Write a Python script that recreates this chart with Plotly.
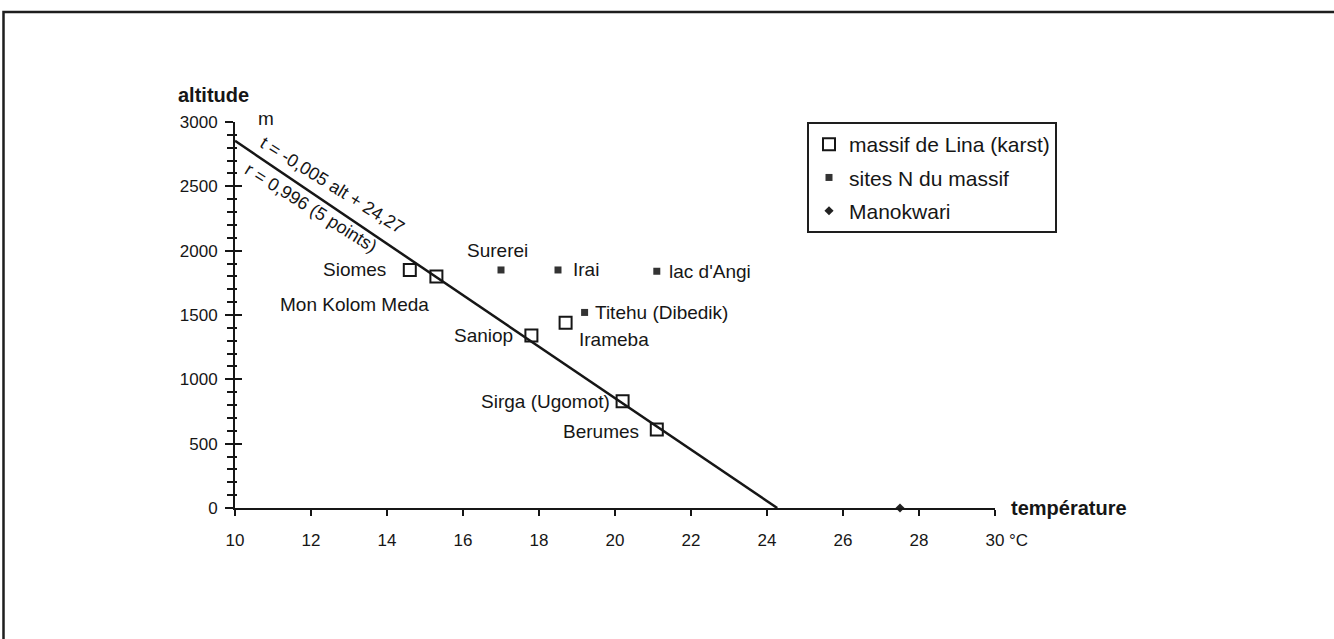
import plotly.graph_objects as go

# Sites du massif de Lina (karst) : température moyenne (°C) et altitude (m)
lina_noms = ["Siomes", "Mon Kolom Meda", "Saniop", "Irameba", "Sirga (Ugomot)", "Berumes"]
lina_temp = [14.6, 15.3, 17.8, 18.7, 20.2, 21.1]
lina_alt = [1850, 1800, 1340, 1440, 830, 610]

# Sites au nord du massif
nord_noms = ["Surerei", "Irai", "lac d'Angi", "Titehu (Dibedik)"]
nord_temp = [17.0, 18.5, 21.1, 19.2]
nord_alt = [1850, 1850, 1840, 1520]

# Station de référence au niveau de la mer
mano_temp = [27.5]
mano_alt = [0]

# Droite de régression : t = pente * alt + ordonnee
pente = -0.005
ordonnee = 24.27
r_coef = "0,996"

x_ticks = [10, 12, 14, 16, 18, 20, 22, 24, 26, 28, 30]
y_ticks = [0, 500, 1000, 1500, 2000, 2500, 3000]

FONT = "Liberation Sans, Arial, Helvetica, sans-serif"
INK = "#161616"

# placement of each site label relative to its marker: (xanchor, xshift, yshift)
label_pos = {
    "Siomes": ("right", -22, 0),
    "Mon Kolom Meda": ("right", -5, -28),
    "Saniop": ("right", -16, 0),
    "Irameba": ("left", 11, -17),
    "Sirga (Ugomot)": ("right", -11, 0),
    "Berumes": ("right", -16, -2),
    "Surerei": ("center", -4, 19),
    "Irai": ("left", 13, 0),
    "lac d'Angi": ("left", 10, 0),
    "Titehu (Dibedik)": ("left", 8, 0),
}

fig = go.Figure()

fig.add_trace(go.Scatter(
    x=lina_temp, y=lina_alt, mode="markers", name="massif de Lina (karst)",
    marker=dict(symbol="square-open", size=12, color=INK, line=dict(width=2, color=INK)),
    legendgroup="a", cliponaxis=False,
))
fig.add_trace(go.Scatter(
    x=nord_temp, y=nord_alt, mode="markers", name="sites N du massif",
    marker=dict(symbol="square", size=7, color="#333333"),
    legendgroup="b", cliponaxis=False,
))
fig.add_trace(go.Scatter(
    x=mano_temp, y=mano_alt, mode="markers", name="Manokwari",
    marker=dict(symbol="diamond", size=7, color="#222222"),
    legendgroup="c", cliponaxis=False,
))

# regression line from x = 10 down to the altitude-0 intercept
x_min = x_ticks[0]
alt_at_min = (x_min - ordonnee) / pente
fig.add_trace(go.Scatter(
    x=[x_min, ordonnee], y=[alt_at_min, 0], mode="lines", showlegend=False,
    line=dict(color=INK, width=2.5), cliponaxis=False,
))

annotations = []
for noms, temps, alts in ((lina_noms, lina_temp, lina_alt), (nord_noms, nord_temp, nord_alt)):
    for n, t, a in zip(noms, temps, alts):
        xa, xs, ys = label_pos[n]
        annotations.append(dict(
            x=t, y=a, text=n, showarrow=False, xanchor=xa, yanchor="middle",
            xshift=xs, yshift=ys, font=dict(family=FONT, size=19, color=INK),
        ))

# equation and correlation written along the regression line
eq_x1 = 12.55
eq_x2 = 12.0
annotations.append(dict(
    x=eq_x1, y=(eq_x1 - ordonnee) / pente, yshift=21,
    text="t = -0,005 alt + 24,27", showarrow=False, textangle=32,
    xanchor="center", yanchor="middle", font=dict(family=FONT, size=18, color=INK),
))
annotations.append(dict(
    x=eq_x2, y=(eq_x2 - ordonnee) / pente, yshift=-16,
    text=f"r = {r_coef} (5 points)", showarrow=False, textangle=32,
    xanchor="center", yanchor="middle", font=dict(family=FONT, size=18, color=INK),
))

# axis titles and units
annotations += [
    dict(x=-0.078, y=1.07, xref="paper", yref="paper", text="<b>altitude</b>",
         showarrow=False, xanchor="left", yanchor="middle",
         font=dict(family=FONT, size=20, color=INK)),
    dict(x=0.028, y=1.008, xref="paper", yref="paper", text="m",
         showarrow=False, xanchor="left", yanchor="middle",
         font=dict(family=FONT, size=19, color=INK)),
    dict(x=1.018, y=0.0, xref="paper", yref="paper", text="<b>température</b>",
         showarrow=False, xanchor="left", yanchor="middle",
         font=dict(family=FONT, size=20, color=INK)),
    dict(x=30, y=0, xref="x", yref="paper", text="°C", showarrow=False,
         xanchor="left", yanchor="middle", xshift=12, yshift=-32,
         font=dict(family=FONT, size=17, color=INK)),
]

# outer frame of the figure
W, H = 1334, 639
L, R, T, B = 235, 339, 122, 131
pw, ph = W - L - R, H - T - B
shapes = [dict(
    type="rect", xref="paper", yref="paper",
    x0=(3.5 - L) / pw, x1=(W + 10 - L) / pw,
    y0=(H - B - (H + 10)) / ph, y1=(H - B - 12) / ph,
    line=dict(color="#1e1e1e", width=2.5),
)]

fig.update_layout(
    width=W, height=H,
    margin=dict(l=L, r=R, t=T, b=B, pad=0),
    paper_bgcolor="white", plot_bgcolor="white",
    font=dict(family=FONT, size=17, color=INK),
    showlegend=True,
    legend=dict(
        x=(807 - L) / pw, y=1.0, xanchor="left", yanchor="top",
        bordercolor="#1e1e1e", borderwidth=2, bgcolor="white",
        font=dict(family=FONT, size=21, color=INK),
        traceorder="grouped", tracegroupgap=3,
    ),
    annotations=annotations,
    shapes=shapes,
    xaxis=dict(
        range=[x_ticks[0], x_ticks[-1]], tickvals=x_ticks,
        showgrid=False, zeroline=False, showline=True, linecolor=INK, linewidth=2,
        ticks="outside", ticklen=6, tickwidth=1.5, tickcolor=INK,
        ticklabelstandoff=10, tickfont=dict(size=17),
    ),
    yaxis=dict(
        range=[y_ticks[0], y_ticks[-1]], tickvals=y_ticks,
        showgrid=False, zeroline=False, showline=True, linecolor=INK, linewidth=2,
        ticks="outside", ticklen=8, tickwidth=2, tickcolor=INK,
        ticklabelstandoff=4, tickfont=dict(size=17),
        minor=dict(dtick=100, ticks="outside", ticklen=6, tickwidth=1.5, tickcolor=INK, showgrid=False),
    ),
    yaxis2=dict(
        range=[y_ticks[0], y_ticks[-1]], tickvals=y_ticks, overlaying="y",
        showgrid=False, zeroline=False, showline=False, showticklabels=False,
        ticks="inside", ticklen=7, tickwidth=2, tickcolor=INK,
        minor=dict(dtick=100, ticks="inside", ticklen=2, tickwidth=1.5, tickcolor=INK, showgrid=False),
    ),
)

# invisible trace that carries the inner half of the crossing y ticks
fig.add_trace(go.Scatter(x=[x_ticks[0]], y=[y_ticks[0]], yaxis="y2", mode="markers",
                         marker=dict(opacity=0), showlegend=False, hoverinfo="skip"))

fig.write_html("out.html")
